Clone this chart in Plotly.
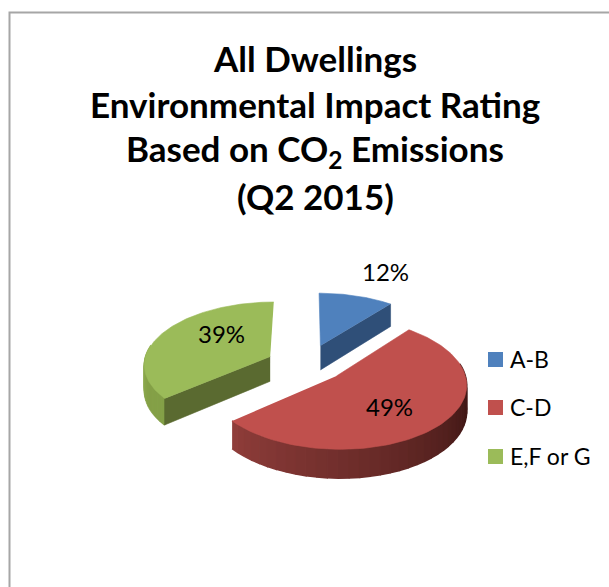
import numpy as np
import plotly.graph_objects as go

CATEGORIES = ["A-B", "C-D", "E,F or G"]
VALUES = [12, 49, 39]
LABELS = ["12%", "49%", "39%"]
TITLE_LINES = ["All Dwellings", "Environmental Impact Rating",
               "Based on CO<sub>2</sub> Emissions", "(Q2 2015)"]

TOP_COLORS = ["#4f81bd", "#c0504d", "#9bbb59"]
CUT_COLORS = ["#2f4f78", None, "#5a6a30"]
LABEL_POS = [(385, 271), (389, 406), (221, 333)]
TITLE_Y = [58, 104, 150, 196]
LEGEND_Y = [359.5, 407.5, 456.5]
LEGEND_TEXT_Y = [358.5, 406.5, 455.5]
LEGEND_SWATCH_X = 495.5
LEGEND_TEXT_X = 510
FONT = "Lato, Carlito, Calibri, sans-serif"

CX, CY = 306.5, 363.0
RX, RY = 126.0, 62.0
PERSP = 0.1115
EXPLODE = 0.31
DEPTH = 25.0


def warp(t):
    # correction of the pie's projected angles (radians)
    return t + np.radians(-11.0 * np.sin(t) + 3.55 * np.sin(2 * t))


def project(X, Y, z=0.0):
    f = 1.0 / (1.0 - PERSP * np.asarray(Y))
    return CX + RX * np.asarray(X) * f, CY + RY * np.asarray(Y) * f + z * f


def arc(start, end, off, n=60):
    t = warp(np.linspace(start, end, n))
    return off[0] + np.sin(t), off[1] - np.cos(t)


def poly(fig, x, y, color, w=0.6):
    fig.add_trace(go.Scatter(x=list(x), y=list(y), mode="lines", fill="toself",
                             fillcolor=color, line=dict(color=color, width=w),
                             hoverinfo="skip", showlegend=False))


def mix(c1, c2, u):
    a = np.array([int(c1[i:i + 2], 16) for i in (1, 3, 5)])
    b = np.array([int(c2[i:i + 2], 16) for i in (1, 3, 5)])
    return "#%02x%02x%02x" % tuple(int(v) for v in a + (b - a) * u)


fig = go.Figure()

fr = np.array(VALUES) / sum(VALUES) * 2 * np.pi
ends = np.cumsum(fr)
starts = ends - fr
WALL_COLORS = [None, ("#8f3d3a", "#431917"), ("#9ab65a", "#84a047")]

for i in [0, 2, 1]:
    s, e = starts[i], ends[i]
    mid = (s + e) / 2
    off = (EXPLODE * np.sin(mid), -EXPLODE * np.cos(mid))
    # outer wall
    if WALL_COLORS[i]:
        a = max(s, np.pi / 2)
        b = min(e, 3 * np.pi / 2)
        n = 40
        edges = np.linspace(b, a, n + 1)
        for k in range(n):
            X, Y = arc(edges[k], edges[k + 1], off, 6)
            x1, y1 = project(X, Y)
            x2, y2 = project(X, Y, DEPTH)
            poly(fig, np.r_[x1, x2[::-1]], np.r_[y1, y2[::-1]],
                 mix(WALL_COLORS[i][0], WALL_COLORS[i][1], min(1, 1.3 * k / (n - 1))), 1.5)
    # cut face
    if CUT_COLORS[i]:
        t = warp(e if i == 0 else s)
        X = np.array([off[0], off[0] + np.sin(t)])
        Y = np.array([off[1], off[1] - np.cos(t)])
        x1, y1 = project(X, Y)
        x2, y2 = project(X, Y, DEPTH)
        poly(fig, np.r_[x1, x2[::-1]], np.r_[y1, y2[::-1]], CUT_COLORS[i])
    # top
    X, Y = arc(s, e, off, 120)
    X = np.r_[off[0], X]
    Y = np.r_[off[1], Y]
    x, y = project(X, Y)
    poly(fig, x, y, TOP_COLORS[i])

for i, c in enumerate(CATEGORIES):
    fig.add_trace(go.Scatter(x=[LEGEND_SWATCH_X], y=[LEGEND_Y[i]], mode="markers", name=c,
                             showlegend=False, hoverinfo="name",
                             marker=dict(symbol="square", size=15, color=TOP_COLORS[i])))

anns = [dict(x=315, y=yy, text=t, showarrow=False, xref="x", yref="y",
             font=dict(family=FONT, size=35, color="black"))
        for t, yy in zip(["<b>%s</b>" % t for t in TITLE_LINES], TITLE_Y)]
anns += [dict(x=p[0], y=p[1], text=t, showarrow=False, xref="x", yref="y",
              font=dict(family=FONT, size=24, color="black"))
         for t, p in zip(LABELS, LABEL_POS)]
anns += [dict(x=LEGEND_TEXT_X, y=yy, text=c, showarrow=False, xref="x", yref="y",
              xanchor="left", xshift=-2, font=dict(family=FONT, size=23, color="black"))
         for c, yy in zip(CATEGORIES, LEGEND_TEXT_Y)]

fig.update_layout(
    width=609, height=587, margin=dict(l=0, r=0, t=0, b=0),
    paper_bgcolor="white", plot_bgcolor="white", showlegend=False,
    xaxis=dict(range=[0, 609], visible=False, fixedrange=True),
    yaxis=dict(range=[587, 0], visible=False, fixedrange=True),
    annotations=anns,
    shapes=[dict(type="path", path="M 9.5 587 L 9.5 12.5 L 609 12.5",
                 xref="x", yref="y", line=dict(color="#a6a6a6", width=2))],
)
fig.write_html("out.html", config=dict(displayModeBar=False),
               post_script="document.body.style.margin='0';")
